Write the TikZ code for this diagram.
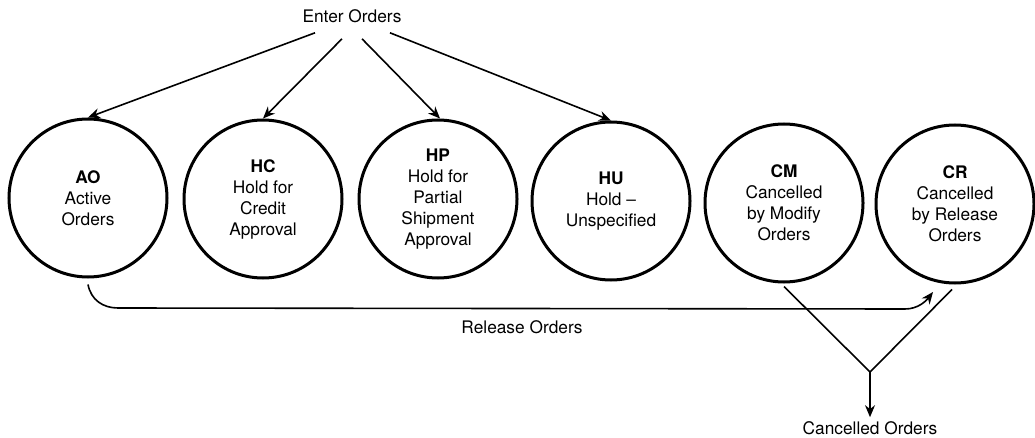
\documentclass[tikz,border=0pt]{standalone}
\usepackage{fontspec}
\setmainfont{TeX Gyre Heros}
\usetikzlibrary{arrows.meta,calc}
\begin{document}
\begin{tikzpicture}[x=1pt,y=-1pt,
  every node/.style={font=\fontsize{17.3}{21}\selectfont, inner sep=0pt},
  state/.style={circle, draw, line width=3pt, minimum size=158pt, align=center},
  flow/.style={line width=1.6pt, -{Stealth[length=12pt,width=10pt]}},
  plain/.style={line width=1.6pt}]
  \useasboundingbox[fill=white] (0,0) rectangle (1035,438);

  % order states
  \node[state] (AO) at (88,198)  {\textbf{AO}\\Active\\Orders};
  \node[state] (HC) at (263,199) {\textbf{HC}\\Hold for\\Credit\\Approval};
  \node[state] (HP) at (438,199) {\textbf{HP}\\Hold for\\Partial\\Shipment\\Approval};
  \node[state] (HU) at (611,201) {\textbf{HU}\\Hold --\\Unspecified};
  \node[state] (CM) at (784,203) {\textbf{CM}\\Cancelled\\by Modify\\Orders};
  \node[state] (CR) at (955,204) {\textbf{CR}\\Cancelled\\by Release\\Orders};

  % labels
  \node (enter) at (352,16) {Enter Orders};
  \node (release) at (522,327) {Release Orders};
  \node (cancel) at (870,428) {Cancelled Orders};

  % entry fan
  \coordinate (e1) at ($(enter.south)+(-37,10)$);
  \coordinate (e2) at ($(enter.south)+(-10,16)$);
  \coordinate (e3) at ($(enter.south)+(10,16)$);
  \coordinate (e4) at ($(enter.south)+(38,10)$);
  \draw[flow] (e1) -- (AO.north);
  \draw[flow] (e2) -- (HC.north);
  \draw[flow] (e3) -- ($(HP.north)+(2,0)$);
  \draw[flow] (e4) -- (HU.north);

  % release path
  \coordinate (r0) at ($(AO.south)+(0,6)$);
  \coordinate (r1) at (118,308);
  \coordinate (r2) at (905,309);
  \coordinate (r3) at (933,292);
  \draw[flow] (r0) .. controls (91,300) and (103,308) .. (r1) -- (r2)
              .. controls (918,309) and (926,301) .. (r3);

  % cancelled path
  \coordinate (c1) at ($(CM.south)+(0,3)$);
  \coordinate (c2) at ($(CR.south)+(-3,5)$);
  \coordinate (j) at (870,372);
  \draw[plain] (c1) -- (j) -- (c2);
  \draw[flow] (j) -- ($(cancel.north)+(0,-4)$);
\end{tikzpicture}
\end{document}
